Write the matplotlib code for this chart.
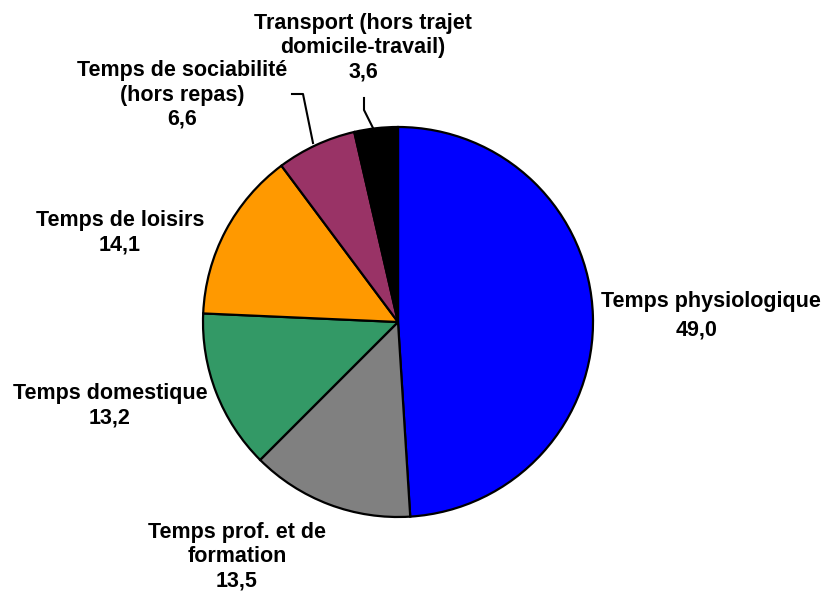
import matplotlib
matplotlib.use('Agg')
import matplotlib.pyplot as plt

plt.rcParams['font.family'] = ['Liberation Sans', 'DejaVu Sans']

categories = ['Temps physiologique', 'Temps prof. et de\nformation', 'Temps domestique',
              'Temps de loisirs', 'Temps de sociabilité\n(hors repas)',
              'Transport (hors trajet\ndomicile-travail)']
values = [49.0, 13.5, 13.2, 14.1, 6.6, 3.6]
colors = ['#0000FF', '#808080', '#339966', '#FF9900', '#993366', '#000000']

# positions des étiquettes (pixels, origine en haut à gauche)
label_pos = [(697, 316), (237, 557), (110, 406), (120, 233), (182, 95), (363, 48)]

W, H = 822, 594
fig = plt.figure(figsize=(W / 100, H / 100), dpi=100)
ax = fig.add_axes([0, 0, 1, 1])

ax.pie(values, colors=colors, startangle=90, counterclock=False,
       center=(398, H - 322), radius=195, frame=True,
       wedgeprops=dict(edgecolor='black', linewidth=1.6))
ax.set_xlim(0, W)
ax.set_ylim(0, H)
ax.set_aspect('equal')
ax.axis('off')

style = dict(fontsize=15.5, fontweight='bold')
for i, (cat, v, (x, y)) in enumerate(zip(categories, values, label_pos)):
    val = f'{v:.1f}'.replace('.', ',')
    if i == 0:
        # l'étiquette déborde à droite : nom aligné à gauche, valeur centrée
        ax.text(601, H - 302, cat, ha='left', va='center', **style)
        ax.text(x, H - 330, val, ha='center', va='center', **style)
    else:
        ax.text(x, H - y, cat + '\n' + val, ha='center', va='center',
                multialignment='center', linespacing=1.2, **style)

# traits de rappel
ax.plot([292, 303, 313], [H - 94, H - 94, H - 143], color='black', lw=1.5)
ax.plot([364, 364, 373], [H - 98, H - 110, H - 128], color='black', lw=1.5)

fig.savefig('out.png', dpi=100)
